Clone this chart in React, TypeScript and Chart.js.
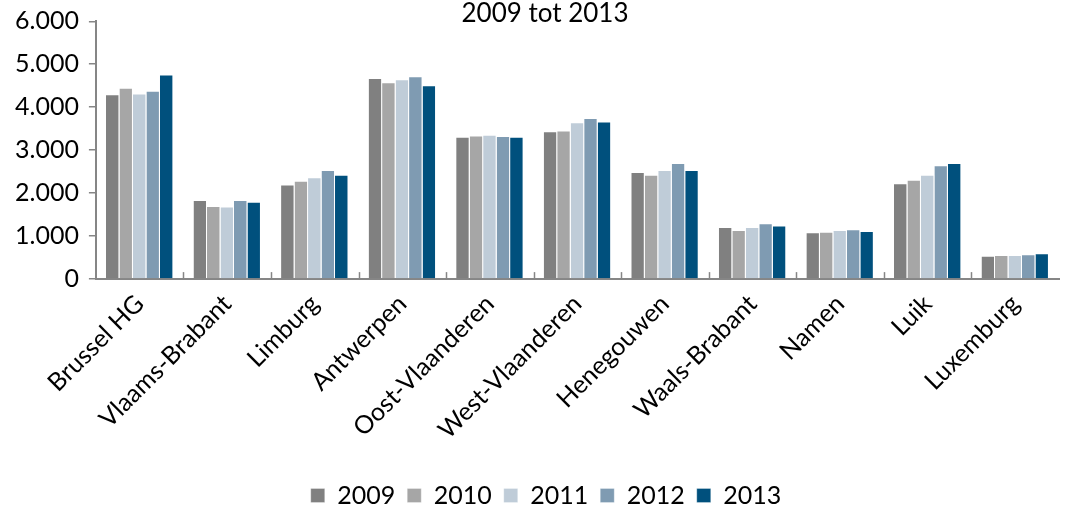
import React, { useEffect, useRef } from "react";
import { Chart, registerables } from "chart.js";

Chart.register(...registerables);

const categories = [
  "Brussel HG",
  "Vlaams-Brabant",
  "Limburg",
  "Antwerpen",
  "Oost-Vlaanderen",
  "West-Vlaanderen",
  "Henegouwen",
  "Waals-Brabant",
  "Namen",
  "Luik",
  "Luxemburg",
];

const years = ["2009", "2010", "2011", "2012", "2013"];

const values2009 = [4300, 1840, 2200, 4680, 3310, 3440, 2490, 1210, 1090, 2230, 545];
const values2010 = [4450, 1700, 2290, 4580, 3340, 3460, 2430, 1140, 1100, 2310, 560];
const values2011 = [4320, 1690, 2370, 4650, 3360, 3650, 2540, 1210, 1140, 2430, 560];
const values2012 = [4380, 1840, 2540, 4720, 3330, 3750, 2700, 1300, 1160, 2650, 580];
const values2013 = [4760, 1800, 2430, 4510, 3310, 3670, 2540, 1250, 1120, 2700, 600];

const colors = ["#808080", "#A6A6A6", "#BFCCD8", "#7F9BB2", "#00507D"];

const titleText = "2009 tot 2013";
const FONT = "Lato, 'Open Sans', sans-serif";

export default function App() {
  const ref = useRef<HTMLCanvasElement | null>(null);

  useEffect(() => {
    if (!ref.current) return;
    const series = [values2009, values2010, values2011, values2012, values2013];

    const titlePlugin = {
      id: "topTitle",
      afterDraw(chart: any) {
        const ctx = chart.ctx;
        ctx.save();
        ctx.font = `26px ${FONT}`;
        ctx.fillStyle = "#000";
        ctx.textAlign = "center";
        ctx.textBaseline = "middle";
        ctx.fillText(titleText, 545, 14);
        ctx.restore();
      },
    };

    const legendShift = {
      id: "legendShift",
      afterLayout(chart: any) {
        if (chart.legend) {
          chart.legend.left += 14;
          chart.legend.right += 14;
        }
      },
    };

    const innerTicks = {
      id: "innerTicks",
      afterDatasetsDraw(chart: any) {
        const ctx = chart.ctx;
        const area = chart.chartArea;
        const n = categories.length;
        const w = (area.right - area.left) / n;
        ctx.save();
        ctx.strokeStyle = "#868686";
        ctx.lineWidth = 1.5;
        for (let i = 1; i < n; i++) {
          const px = Math.round(area.left + i * w) + 0.5;
          ctx.beginPath();
          ctx.moveTo(px, area.bottom);
          ctx.lineTo(px, area.bottom - 7);
          ctx.stroke();
        }
        ctx.restore();
      },
    };

    const chart = new Chart(ref.current, {
      type: "bar",
      data: {
        labels: categories,
        datasets: years.map((y, i) => ({
          label: y,
          data: series[i],
          backgroundColor: colors[i],
          borderColor: "rgba(255,255,255,0.6)",
          borderWidth: { top: 1, left: 0, right: 1, bottom: 0 },
          categoryPercentage: 0.77,
          barPercentage: 1,
        })),
      },
      options: {
        animation: false,
        responsive: false,
        maintainAspectRatio: false,
        layout: { padding: { top: 3, right: 20, left: 5, bottom: -12 } },
        plugins: {
          title: { display: false },
          tooltip: { enabled: false },
          legend: {
            position: "bottom",
            labels: {
              boxWidth: 14,
              boxHeight: 14,
              padding: 12,
              color: "#000",
              font: { family: FONT, size: 25 },
            },
          },
        },
        scales: {
          x: {
            grid: { display: false, drawOnChartArea: false },
            border: { display: true, color: "#868686", width: 2 },
            afterFit: (s: any) => {
              s.height += 24;
            },
            ticks: {
              color: "#000",
              font: { family: FONT, size: 25 },
              maxRotation: 45,
              minRotation: 45,
              autoSkip: false,
              padding: 2,
            },
          },
          y: {
            min: 0,
            max: 6000,
            grid: {
              drawOnChartArea: false,
              drawTicks: true,
              tickLength: 7,
              color: "#868686",
              lineWidth: 1.5,
            },
            border: { display: true, color: "#868686", width: 2 },
            ticks: {
              stepSize: 1000,
              color: "#000",
              padding: 10,
              font: { family: FONT, size: 25, lineHeight: 0.9 },
              callback: (v: any) => Number(v).toLocaleString("nl-NL"),
            },
          },
        },
      },
      plugins: [titlePlugin, innerTicks, legendShift],
    });
    return () => chart.destroy();
  }, []);

  return (
    <div style={{ position: "absolute", left: 0, top: 0, width: 1079, height: 506 }}>
      <canvas ref={ref} width={1079} height={506} style={{ width: 1079, height: 506 }} />
    </div>
  );
}
